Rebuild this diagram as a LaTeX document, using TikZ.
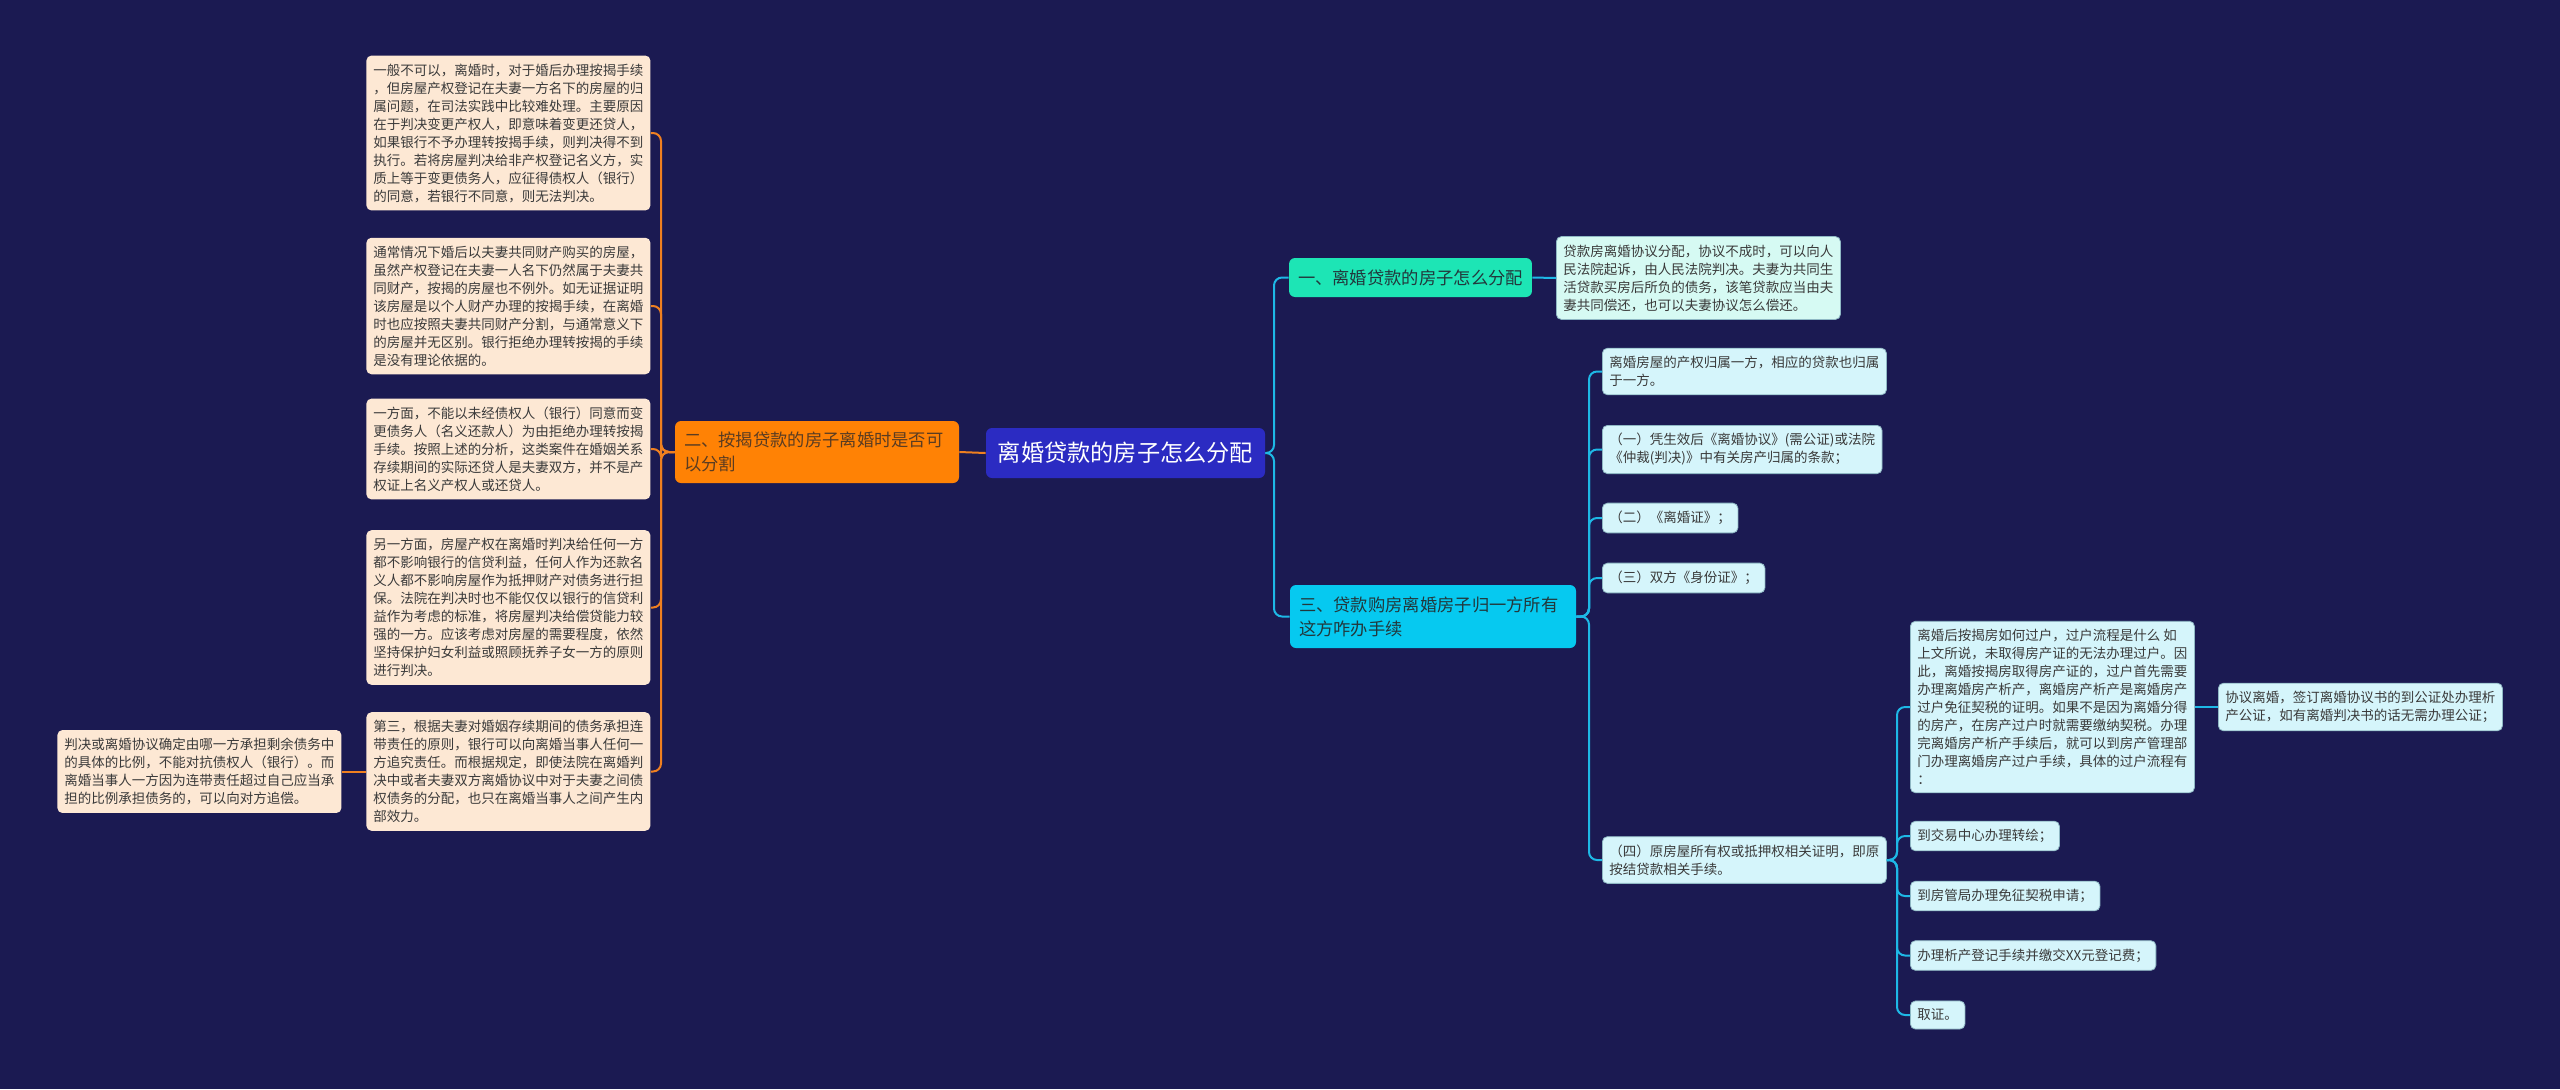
\documentclass[tikz,border=0pt]{standalone}
\usepackage{fontspec}
\setmainfont{Noto Sans CJK SC}
\definecolor{bg}{HTML}{1B1A52}
\definecolor{centerc}{HTML}{2B2BC2}
\definecolor{orangec}{HTML}{FF8205}
\definecolor{orangetxt}{HTML}{5A3C22}
\definecolor{tealc}{HTML}{1DE5B5}
\definecolor{cyanc}{HTML}{06C9F0}
\definecolor{peachc}{HTML}{FDE8D4}
\definecolor{cyanlt}{HTML}{D5F5FB}
\definecolor{mintlt}{HTML}{D6FAF3}
\definecolor{txt}{HTML}{3A3A3A}
\definecolor{branchtxt}{HTML}{22383C}
\definecolor{olinec}{HTML}{F08020}
\definecolor{clinec}{HTML}{1EB8E6}
\definecolor{cyanbd}{HTML}{8FB8C4}
\begin{document}
\begin{tikzpicture}[x=0.5pt,y=-0.5pt,
  peach/.style={fill=peachc, rounded corners=2.5pt, text=txt, align=left,
    inner xsep=3.5pt, inner ysep=4pt, font=\fontsize{6.75}{9}\selectfont, anchor=west},
  cbox/.style={peach, fill=cyanlt, draw=cyanbd, line width=0.4pt},
  mbox/.style={cbox, fill=mintlt},
  centernode/.style={fill=centerc, rounded corners=3pt, text=white,
    minimum width=139.5pt, minimum height=25pt, inner sep=2pt,
    font=\fontsize{11.6}{14}\selectfont},
  branch/.style={rounded corners=3pt, text=branchtxt, align=left,
    inner xsep=4.5pt, inner ysep=2pt, font=\fontsize{8.65}{12}\selectfont},
  oline/.style={draw=olinec, line width=1pt, rounded corners=4pt},
  cline/.style={draw=clinec, line width=1pt, rounded corners=4pt}
]
\fill[bg] (0,0) rectangle (2560,1089);
\useasboundingbox (0,0) rectangle (2560,1089);

% center
\node[centernode] (C) at (1125.5,453) {离婚贷款的房子怎么分配};

% left branch
\node[branch, fill=orangec, text=orangetxt, text width=133pt, minimum height=31pt] (O) at (817,452)
  {二、按揭贷款的房子离婚时是否可\\以分割};

\node[peach] (L1) at (366,133) {一般不可以，离婚时，对于婚后办理按揭手续\\，但房屋产权登记在夫妻一方名下的房屋的归\\属问题，在司法实践中比较难处理。主要原因\\在于判决变更产权人，即意味着变更还贷人，\\如果银行不予办理转按揭手续，则判决得不到\\执行。若将房屋判决给非产权登记名义方，实\\质上等于变更债务人，应征得债权人（银行）\\的同意，若银行不同意，则无法判决。};
\node[peach] (L2) at (366,306) {通常情况下婚后以夫妻共同财产购买的房屋，\\虽然产权登记在夫妻一人名下仍然属于夫妻共\\同财产，按揭的房屋也不例外。如无证据证明\\该房屋是以个人财产办理的按揭手续，在离婚\\时也应按照夫妻共同财产分割，与通常意义下\\的房屋并无区别。银行拒绝办理转按揭的手续\\是没有理论依据的。};
\node[peach] (L3) at (366,449) {一方面，不能以未经债权人（银行）同意而变\\更债务人（名义还款人）为由拒绝办理转按揭\\手续。按照上述的分析，这类案件在婚姻关系\\存续期间的实际还贷人是夫妻双方，并不是产\\权证上名义产权人或还贷人。};
\node[peach] (L4) at (366,607.5) {另一方面，房屋产权在离婚时判决给任何一方\\都不影响银行的信贷利益，任何人作为还款名\\义人都不影响房屋作为抵押财产对债务进行担\\保。法院在判决时也不能仅仅以银行的信贷利\\益作为考虑的标准，将房屋判决给偿贷能力较\\强的一方。应该考虑对房屋的需要程度，依然\\坚持保护妇女利益或照顾抚养子女一方的原则\\进行判决。};
\node[peach] (L5) at (366,771.5) {第三，根据夫妻对婚姻存续期间的债务承担连\\带责任的原则，银行可以向离婚当事人任何一\\方追究责任。而根据规定，即使法院在离婚判\\决中或者夫妻双方离婚协议中对于夫妻之间债\\权债务的分配，也只在离婚当事人之间产生内\\部效力。};
\node[peach] (L6) at (57,771.5) {判决或离婚协议确定由哪一方承担剩余债务中\\的具体的比例，不能对抗债权人（银行）。而\\离婚当事人一方因为连带责任超过自己应当承\\担的比例承担债务的，可以向对方追偿。};

% right branches
\node[branch, fill=tealc, minimum width=120.5pt, minimum height=19.5pt] (G1) at (1410.5,277.5) {一、离婚贷款的房子怎么分配};
\node[mbox] (D1) at (1556,278) {贷款房离婚协议分配，协议不成时，可以向人\\民法院起诉，由人民法院判决。夫妻为共同生\\活贷款买房后所负的债务，该笔贷款应当由夫\\妻共同偿还，也可以夫妻协议怎么偿还。};

\node[branch, fill=cyanc, text width=134pt, minimum height=31.5pt] (G3) at (1433,616.5) {三、贷款购房离婚房子归一方所有\\这方咋办手续};

\node[cbox] (R1) at (1602,371.5) {离婚房屋的产权归属一方，相应的贷款也归属\\于一方。};
\node[cbox] (R2) at (1602,449.5) {（一）凭生效后《离婚协议》(需公证)或法院\\《仲裁(判决)》中有关房产归属的条款；};
\node[cbox] (R3) at (1602,518) {（二）《离婚证》；};
\node[cbox] (R4) at (1602,578) {（三）双方《身份证》；};
\node[cbox] (R5) at (1602,860) {（四）原房屋所有权或抵押权相关证明，即原\\按结贷款相关手续。};

\node[cbox] (B) at (1910,707) {离婚后按揭房如何过户，过户流程是什么 如\\上文所说，未取得房产证的无法办理过户。因\\此，离婚按揭房取得房产证的，过户首先需要\\办理离婚房产析产，离婚房产析产是离婚房产\\过户免征契税的证明。如果不是因为离婚分得\\的房产，在房产过户时就需要缴纳契税。办理\\完离婚房产析产手续后，就可以到房产管理部\\门办理离婚房产过户手续，具体的过户流程有\\：};
\node[cbox] (BD) at (2218,707) {协议离婚，签订离婚协议书的到公证处办理析\\产公证，如有离婚判决书的话无需办理公证；};
\node[cbox] (S1) at (1910,836) {到交易中心办理转绘；};
\node[cbox] (S2) at (1910,896) {到房管局办理免征契税申请；};
\node[cbox] (S3) at (1910,955.5) {办理析产登记手续并缴交XX元登记费；};
\node[cbox] (S4) at (1910,1015) {取证。};

% connectors left
\coordinate (lb) at (661,452);
\draw[oline] (C.west) -- (O.east);
\foreach \n in {L1,L2,L3,L4,L5} \draw[oline] (O.west) -- (lb) |- (\n.east);
\draw[oline] (L5.west) -- (L6.east);

% connectors right
\coordinate (rb) at (1274,453);
\coordinate (rb2) at (1589,616.5);
\coordinate (rb3) at (1897,860);
\foreach \n in {G1,G3} \draw[cline] (C.east) -- (rb) |- (\n.west);
\draw[cline] (G1.east) -- (D1.west);
\foreach \n in {R1,R2,R3,R4,R5} \draw[cline] (G3.east) -- (rb2) |- (\n.west);
\foreach \n in {B,S1,S2,S3,S4} \draw[cline] (R5.east) -- (rb3) |- (\n.west);
\draw[cline] (B.east) -- (BD.west);
\end{tikzpicture}
\end{document}
